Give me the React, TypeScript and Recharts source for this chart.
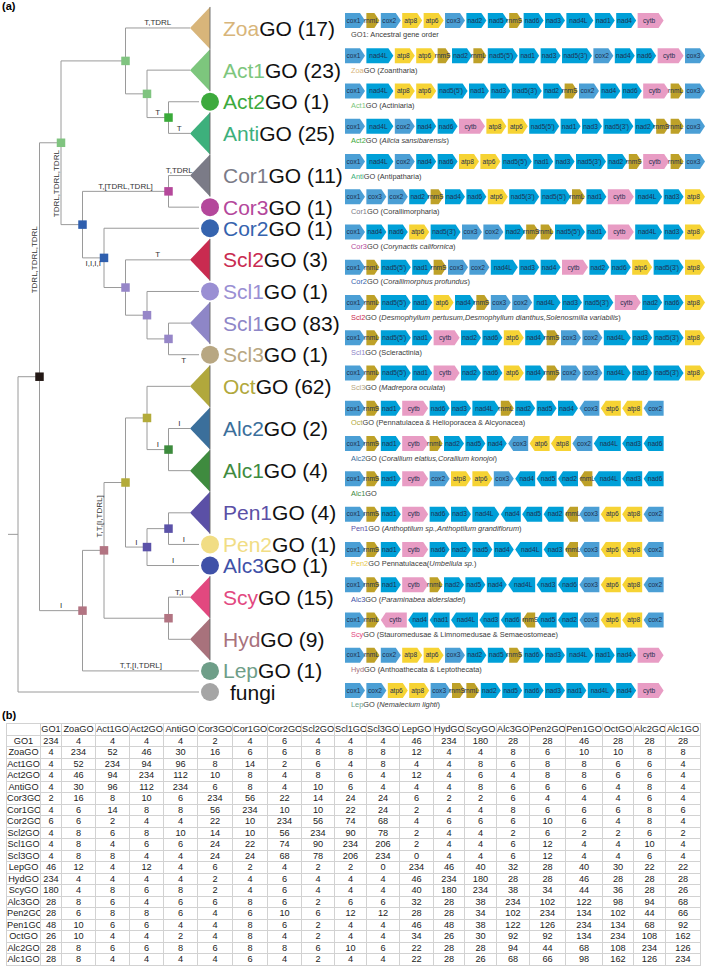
import React from 'react';
import { ScatterChart, Scatter, XAxis, YAxis, BarChart, Bar } from 'recharts';

const FONT = '"Liberation Sans", Arial, Helvetica, sans-serif';

// ---------------- Tree data ----------------
const tipNames = ['Zoa', 'Act1', 'Act2', 'Anti', 'Cor1', 'Cor3', 'Cor2', 'Scl2', 'Scl1', 'Scl1', 'Scl3', 'Oct', 'Alc2', 'Alc1', 'Pen1', 'Pen2', 'Alc3', 'Scy', 'Hyd', 'Lep', 'fungi'];
const tipCounts = [17, 23, 1, 25, 11, 1, 1, 3, 1, 83, 1, 62, 2, 4, 4, 1, 1, 15, 9, 1, null];
const tipKinds = ['clade', 'clade', 'single', 'clade', 'clade', 'single', 'single', 'clade', 'single', 'clade', 'single', 'clade', 'clade', 'clade', 'clade', 'single', 'single', 'clade', 'clade', 'single', 'single'];

type LP = 'a' | 'b' | 'v';
interface TNode { id: string; depth: number; tip?: number; label?: string; lp?: LP; children?: TNode[]; y?: number; }
const TIP_LEVEL = 8;
const N = (id: string, depth: number, children: TNode[], label?: string, lp?: LP): TNode => ({ id, depth, children, label, lp });
const T = (tip: number, label?: string, lp?: LP): TNode => ({ id: 't' + tip, depth: TIP_LEVEL, tip, label, lp });

const tree: TNode = N('root', 0, [
  N('A', 1, [
    N('Hexa', 2, [
      N('Z', 5, [T(0, 'T,TDRL', 'a'), N('ActN', 6, [T(1), N('AA', 7, [T(2), T(3, 'T', 'a')], 'T', 'a')])]),
      N('CS', 3, [
        N('CC', 7, [T(4, 'T,TDRL', 'a'), T(5)], 'T,[TDRL,TDRL]', 'a'),
        N('CS2', 4, [T(6), N('S1', 5, [T(7, 'T', 'a'), N('S2', 6, [T(8), N('S3', 7, [T(9), T(10, 'T', 'b')])])])], 'I,I,I,I', 'b'),
      ], 'TDRL,TDRL,TDRL', 'v'),
    ], 'TDRL,TDRL,TDRL', 'v'),
    N('OctMed', 3, [
      N('OM', 4, [
        N('Octo', 5, [
          N('OA', 6, [T(11), N('AA2', 7, [T(12, 'I', 'a'), T(13)], 'I', 'a')]),
          N('PA', 6, [N('PP', 7, [T(14), T(15, 'I', 'a')]), T(16, 'I', 'a')], 'I', 'a'),
        ], 'T,T,[I,TDRL]', 'v'),
        N('SH', 7, [T(17, 'T,I', 'a'), T(18)]),
      ]),
      T(19, 'T,T,[I,TDRL]', 'a'),
    ], 'I', 'a'),
  ]),
  T(20),
]);

// ---------------- Gene order data ----------------
const geneOrders: string[][] = [
  ['cox1', 'rnmL', 'cox2', 'atp8', 'atp6', 'cox3', 'nad2', 'nad5', 'rnmS', 'nad6', 'nad3', 'nad4L', 'nad1', 'nad4', 'cytb'],
  ['cox1', 'nad4L', 'atp8', 'atp6', 'rnmS', 'nad2', 'rnmL', "nad5(5')", 'nad1', 'nad3', "nad5(3')", 'cox2', 'nad4', 'nad6', 'cytb', 'cox3'],
  ['cox1', 'nad4L', 'atp8', 'atp6', "nad5(5')", 'nad1', 'nad3', "nad5(3')", 'nad2', 'rnmS', 'cox2', 'nad4', 'nad6', 'cytb', 'rnmL', 'cox3'],
  ['cox1', 'nad4L', 'cox2', 'nad4', 'nad6', 'cytb', 'atp8', 'atp6', "nad5(5')", 'nad1', 'nad3', "nad5(3')", 'nad2', 'rnmS', 'rnmL', 'cox3'],
  ['cox1', 'nad4L', 'cox2', 'nad4', 'nad6', 'atp8', 'atp6', "nad5(5')", 'nad1', 'nad3', "nad5(3')", 'nad2', 'rnmS', 'cytb', 'rnmL', 'cox3'],
  ['cox1', 'cox3', 'cox2', 'nad2', 'rnmS', 'nad4', 'nad6', 'atp6', "nad5(3')", "nad5(5')", 'rnmL', 'nad1', 'cytb', 'nad4L', 'nad3', 'atp8'],
  ['cox1', 'nad4', 'nad6', 'atp6', "nad5(3')", 'cox3', 'cox2', 'nad2', 'rnmS', 'rnmL', "nad5(5')", 'nad1', 'cytb', 'nad4L', 'nad3', 'atp8'],
  ['cox1', 'rnmL', "nad5(5')", 'nad1', 'rnmS', 'cox3', 'cox2', 'nad4L', 'nad3', 'nad4', 'cytb', 'nad2', 'nad6', 'atp6', "nad5(3')", 'atp8'],
  ['cox1', 'rnmL', "nad5(5')", 'nad1', 'atp6', 'nad4', 'rnmS', 'cox3', 'cox2', 'nad4L', 'nad3', "nad5(3')", 'cytb', 'nad2', 'nad6', 'atp8'],
  ['cox1', 'rnmL', "nad5(5')", 'nad1', 'cytb', 'nad2', 'nad6', 'atp6', 'nad4', 'rnmS', 'cox3', 'cox2', 'nad4L', 'nad3', "nad5(3')", 'atp8'],
  ['cox1', 'rnmL', "nad5(5')", 'nad1', 'cytb', 'nad2', 'nad6', 'atp6', 'nad4', 'rnmS', 'cox2', 'cox3', 'nad4L', 'nad3', "nad5(3')", 'atp8'],
  ['cox1', 'rnmS', 'nad1', 'cytb', 'nad6', 'nad3', 'nad4L', 'rnmL', 'nad2', 'nad5', 'nad4', '-cox3', '-atp6', '-atp8', '-cox2'],
  ['cox1', 'rnmS', 'nad1', 'cytb', 'rnmL', 'nad2', 'nad5', 'nad4', '-cox3', '-atp6', '-atp8', '-cox2', '-nad4L', '-nad3', '-nad6'],
  ['cox1', 'rnmS', 'nad1', 'cytb', 'cox2', 'atp8', 'atp6', 'cox3', '-nad4', '-nad5', '-nad2', '-rnmL', '-nad4L', '-nad3', '-nad6'],
  ['cox1', 'rnmS', 'nad1', 'cytb', 'nad6', 'nad3', 'nad4L', '-nad4', '-nad5', '-nad2', '-rnmL', '-cox3', '-atp6', '-atp8', '-cox2'],
  ['cox1', 'rnmS', 'nad1', 'cytb', 'nad6', 'nad2', 'nad5', 'nad4', '-nad4L', '-nad3', '-rnmL', '-cox3', '-atp6', '-atp8', '-cox2'],
  ['cox1', 'rnmS', 'nad1', 'cytb', 'rnmL', 'nad2', 'nad5', 'nad4', '-nad4L', '-nad3', '-nad6', '-cox3', '-atp6', '-atp8', '-cox2'],
  ['cox1', 'rnmL', '-cytb', '-nad4', '-nad1', '-nad4L', '-nad3', '-nad6', '-rnmS', '-nad5', '-nad2', '-cox3', '-atp6', '-atp8', '-cox2'],
  ['cox1', 'rnmL', 'cox2', 'atp8', 'atp6', 'cox3', 'nad2', 'nad5', 'rnmS', 'nad6', 'nad3', 'nad4L', 'nad1', 'nad4', 'cytb'],
  ['cox1', 'cox2', 'atp6', 'atp8', 'cox3', 'rnmS', 'rnmL', 'nad2', 'nad5', 'nad6', 'nad3', 'nad1', 'nad4L', 'nad4', 'cytb'],
];
const captionPrefix = ['GO1', 'Zoa', 'Act1', 'Act2', 'Anti', 'Cor1', 'Cor3', 'Cor2', 'Scl2', 'Scl1', 'Scl3', 'Oct', 'Alc2', 'Alc1', 'Pen1', 'Pen2', 'Alc3', 'Scy', 'Hyd', 'Lep'];
const captionText = [
  ': Ancestral gene order', 'GO  (Zoantharia)', 'GO (Actiniaria)', 'GO  (*Alicia sansibarensis*)', 'GO (Antipatharia)',
  'GO (Corallimorpharia)', 'GO (*Corynactis californica*)', 'GO (*Corallimorphus profundus*)',
  'GO (*Desmophyllum pertusum,Desmophyllum dianthus,Solenosmilia variabilis*)', 'GO (Scleractinia)', 'GO (*Madrepora oculata*)',
  'GO (Pennatulacea & Helioporacea & Alcyonacea)', 'GO (*Corallium elatius,Corallium konojoi*)', 'GO',
  'GO (*Anthoptilum sp.,Anthoptilum grandiflorum*)', 'GO Pennatulacea(*Umbellula sp.*)', 'GO (*Paraminabea aldersladei*)',
  'GO (Stauromedusae & Limnomedusae & Semaeostomeae)', 'GO (Anthoathecata & Leptothecata)', 'GO (*Nemalecium lighti*)',
];

// ---------------- Table data ----------------
const tableNames = ['GO1', 'ZoaGO', 'Act1GO', 'Act2GO', 'AntiGO', 'Cor3GO', 'Cor1GO', 'Cor2GO', 'Scl2GO', 'Scl1GO', 'Scl3GO', 'LepGO', 'HydGO', 'ScyGO', 'Alc3GO', 'Pen2GO', 'Pen1GO', 'OctGO', 'Alc2GO', 'Alc1GO'];
const tableValues: number[][] = [
  [234, 4, 4, 4, 4, 2, 4, 6, 4, 4, 4, 46, 234, 180, 28, 28, 46, 28, 28, 28],
  [4, 234, 52, 46, 30, 16, 6, 6, 8, 8, 8, 12, 4, 4, 8, 6, 10, 10, 8, 8],
  [4, 52, 234, 94, 96, 8, 14, 2, 6, 4, 8, 4, 4, 8, 6, 8, 8, 6, 6, 4],
  [4, 46, 94, 234, 112, 10, 8, 4, 8, 6, 4, 12, 4, 6, 4, 8, 8, 6, 6, 4],
  [4, 30, 96, 112, 234, 6, 8, 4, 10, 6, 4, 4, 4, 8, 6, 6, 6, 4, 8, 4],
  [2, 16, 8, 10, 6, 234, 56, 22, 14, 24, 24, 6, 2, 2, 6, 4, 4, 4, 6, 4],
  [4, 6, 14, 8, 8, 56, 234, 10, 10, 22, 24, 2, 4, 4, 8, 6, 6, 6, 8, 6],
  [6, 6, 2, 4, 4, 22, 10, 234, 56, 74, 68, 4, 6, 6, 6, 10, 6, 4, 8, 4],
  [4, 8, 6, 8, 10, 14, 10, 56, 234, 90, 78, 2, 4, 4, 2, 6, 2, 2, 6, 2],
  [4, 8, 4, 6, 6, 24, 22, 74, 90, 234, 206, 2, 4, 4, 6, 12, 4, 4, 10, 4],
  [4, 8, 8, 4, 4, 24, 24, 68, 78, 206, 234, 0, 4, 4, 6, 12, 4, 4, 6, 4],
  [46, 12, 4, 12, 4, 6, 2, 4, 2, 2, 0, 234, 46, 40, 32, 28, 40, 30, 22, 22],
  [234, 4, 4, 4, 4, 2, 4, 6, 4, 4, 4, 46, 234, 180, 28, 28, 46, 28, 28, 28],
  [180, 4, 8, 6, 8, 2, 4, 6, 4, 4, 4, 40, 180, 234, 38, 34, 44, 36, 28, 26],
  [28, 8, 6, 4, 6, 6, 8, 6, 2, 6, 6, 32, 28, 38, 234, 102, 122, 98, 94, 68],
  [28, 6, 8, 8, 6, 4, 6, 10, 6, 12, 12, 28, 28, 34, 102, 234, 134, 102, 44, 66],
  [48, 10, 6, 6, 4, 4, 8, 6, 2, 4, 4, 46, 48, 38, 122, 126, 234, 134, 68, 92],
  [26, 10, 4, 4, 2, 4, 8, 4, 2, 4, 4, 34, 26, 30, 92, 92, 134, 234, 108, 162],
  [28, 8, 6, 6, 8, 6, 8, 8, 6, 10, 6, 22, 28, 28, 94, 44, 68, 108, 234, 126],
  [28, 8, 4, 4, 4, 4, 6, 4, 2, 4, 4, 22, 28, 26, 68, 66, 98, 162, 126, 234],
];

// ---------------- Styles ----------------
const TIP_COLORS = ['#d8b57a', '#7dc67d', '#3daa3d', '#3db07c', '#7b7b87', '#b4479b', '#3563ae', '#c92b50', '#9a8fd3', '#8e86c7', '#b8a782', '#b1a83c', '#3b6f9b', '#3f8b3f', '#5b50a6', '#f1dd84', '#3f51a8', '#e2487f', '#a8727c', '#6e9e88', '#a5a5a5'];
const CAPTION_COLORS = ['#444', TIP_COLORS[0], TIP_COLORS[1], TIP_COLORS[2], TIP_COLORS[3], TIP_COLORS[4], TIP_COLORS[5], TIP_COLORS[6], TIP_COLORS[7], TIP_COLORS[9], TIP_COLORS[10], TIP_COLORS[11], TIP_COLORS[12], TIP_COLORS[13], TIP_COLORS[14], '#e8c94a', TIP_COLORS[16], TIP_COLORS[17], TIP_COLORS[18], TIP_COLORS[19]];
const NODE_COLORS: Record<string, string> = {
  A: '#231815', Hexa: '#80c480', Z: '#80c480', ActN: '#80c480', AA: '#3aaa3a', CS: '#2f5fae', CC: '#b5489b', CS2: '#2f5fae',
  S1: '#9686c8', S2: '#9686c8', S3: '#9686c8', OctMed: '#b27482', OM: '#b27482', Octo: '#b3ab3a', OA: '#b3ab3a', AA2: '#3d8b3d',
  PA: '#5b52a8', PP: '#5b52a8', SH: '#b27482',
};
const GENE_COLORS: Record<string, string> = { nad: '#00a0d8', cox: '#4b9fd5', atp: '#f6d334', rnm: '#bea128', cyt: '#e89cc4' };
const GENE_W: Record<string, number> = { rnmS: 13, rnmL: 13, nad4L: 27, cytb: 26, "nad5(5')": 30, "nad5(3')": 30 };
const STD_W = 20;
const GAP = 1.4;
const BRANCH = '#9a9a9a';

// tree pixel mapping: px = X0 + LEVEL_PX * level ; py = Y0 + ROW_PX * unit
const X0 = 18, LEVEL_PX = 21.5, Y0 = 6.9, ROW_PX = 21.08;
const TREE_W = 360, TREE_H = 720;
const CIRCLE_LEVEL = (210 - X0) / LEVEL_PX;
const ROOT_STEM = 10 / LEVEL_PX;

function layoutTree(root: TNode) {
  let cum = 0;
  const ty = tipKinds.map((k) => { const s = k === 'clade' ? 2 : 1; const c = cum + s / 2; cum += s; return c; });
  const segs: { x: number; y: number }[][] = [];
  const nodes: any[] = [];
  const labels: any[] = [];
  const isClade = (n: TNode) => tipKinds[n.tip as number] === 'clade';
  const visEnd = (n: TNode) => (n.tip !== undefined ? (isClade(n) ? TIP_LEVEL : TIP_LEVEL + 0.42) : n.depth);
  const setY = (n: TNode): number => {
    if (n.tip !== undefined) { n.y = ty[n.tip]; return n.y; }
    const ys = (n.children as TNode[]).map(setY);
    n.y = (ys[0] + ys[ys.length - 1]) / 2;
    return n.y;
  };
  setY(root);
  const walk = (n: TNode) => {
    if (!n.children) return;
    const c0 = n.children[0], cl = n.children[n.children.length - 1];
    segs.push([{ x: n.depth, y: c0.y as number }, { x: n.depth, y: cl.y as number }]);
    if (n.id !== 'root') nodes.push({ x: n.depth, y: n.y, id: n.id });
    n.children.forEach((c) => {
      segs.push([{ x: n.depth, y: c.y as number }, { x: visEnd(c), y: c.y as number }]);
      if (c.label) {
        if (c.lp === 'v') labels.push({ x: n.depth, y: ((n.y as number) + (c.y as number)) / 2, text: c.label, lp: 'v' });
        else labels.push({ x: (n.depth + visEnd(c)) / 2, y: c.y, text: c.label, lp: c.lp });
      }
      walk(c);
    });
  };
  walk(root);
  segs.push([{ x: -ROOT_STEM, y: root.y as number }, { x: 0, y: root.y as number }]);
  const tips = tipNames.map((name, i) => ({ x: tipKinds[i] === 'clade' ? TIP_LEVEL : CIRCLE_LEVEL, y: ty[i], i }));
  return { segs, nodes, labels, tips };
}

const TL = layoutTree(tree);

const NodeSquare = (p: any) => {
  const s = 8.5;
  return <rect x={p.cx - s / 2} y={p.cy - s / 2} width={s} height={s} fill={NODE_COLORS[p.payload.id]} />;
};

const TipShape = (p: any) => {
  const i = p.payload.i;
  const color = TIP_COLORS[i];
  const { cx, cy } = p;
  const clade = tipKinds[i] === 'clade';
  const labelX = i === 20 ? cx + 20 : clade ? cx + 33 : cx + 13;
  return (
    <g>
      {clade ? (
        <g>
          <polygon points={`${cx},${cy} ${cx + 20},${cy - 21} ${cx + 20},${cy + 21}`} fill={color} />
          <line x1={cx + 20} y1={cy - 21} x2={cx + 20} y2={cy + 21} stroke="#666" strokeWidth={0.9} />
        </g>
      ) : (
        <circle cx={cx} cy={cy} r={9} fill={color} />
      )}
      <text x={labelX} y={cy} dy="0.36em" fontSize={21} fontFamily={FONT}>
        {i === 20 ? (
          <tspan fill="#111">{tipNames[i]}</tspan>
        ) : (
          <>
            <tspan fill={color}>{tipNames[i]}</tspan>
            <tspan fill="#111">{`GO (${tipCounts[i]})`}</tspan>
          </>
        )}
      </text>
    </g>
  );
};

const BranchLabel = (p: any) => {
  const { cx, cy, payload } = p;
  const common = { fontSize: 8, fontFamily: FONT, fill: '#333', textAnchor: 'middle' as const };
  if (payload.lp === 'v') {
    return <text x={cx - 2} y={cy} transform={`rotate(-90, ${cx - 2}, ${cy})`} {...common}>{payload.text}</text>;
  }
  if (payload.lp === 'b') return <text x={cx} y={cy + 8.5} {...common}>{payload.text}</text>;
  return <text x={cx} y={cy - 2.5} {...common}>{payload.text}</text>;
};

const Empty = () => <g />;

function geneColor(name: string) {
  return GENE_COLORS[name.slice(0, 3)] || '#00a0d8';
}

const geneRows = geneOrders.map((genes, r) => {
  const o: any = { row: r };
  genes.forEach((g, k) => {
    const nm = g.startsWith('-') ? g.slice(1) : g;
    o['w' + k] = (GENE_W[nm] ?? STD_W) + GAP;
    o['n' + k] = g;
  });
  return o;
});
const MAX_GENES = Math.max(...geneOrders.map((g) => g.length));

function renderCaption(r: number, x: number, y: number) {
  const parts = captionText[r].split('*');
  return (
    <text x={x} y={y} fontSize={7.4} fontFamily={FONT} fill="#3a3a3a">
      <tspan fill={CAPTION_COLORS[r]}>{captionPrefix[r]}</tspan>
      {parts.map((s, j) => (
        <tspan key={j} fontStyle={j % 2 === 1 ? 'italic' : 'normal'}>{s}</tspan>
      ))}
    </text>
  );
}

const GeneBox = (props: any) => {
  const { x, y, width, height, payload, k } = props;
  const raw: string | undefined = payload ? payload['n' + k] : undefined;
  if (!raw) return <g />;
  const rev = raw.startsWith('-');
  const name = rev ? raw.slice(1) : raw;
  const w = width - GAP;
  const h = height;
  const tl = 5;
  const pts = rev
    ? [[x, y + h / 2], [x + tl, y], [x + w, y], [x + w, y + h], [x + tl, y + h]]
    : [[x, y], [x + w - tl, y], [x + w, y + h / 2], [x + w - tl, y + h], [x, y + h]];
  const tx = rev ? x + tl * 0.6 + (w - tl * 0.6) / 2 : x + (w - tl * 0.6) / 2;
  return (
    <g>
      <polygon points={pts.map((p) => p.join(',')).join(' ')} fill={geneColor(name)} />
      <text x={tx} y={y + h / 2} dy="0.35em" textAnchor="middle" fontSize={6.6} fontFamily={FONT} fill="#1f2f4f">
        {name}
      </text>
      {k === 0 ? renderCaption(payload.row, x + 6, y + h / 2 + 17) : null}
    </g>
  );
};

const COL_W = [34, 21, 34, 34, 34, 34, 35, 35, 34, 33, 32, 33, 34, 31, 32, 33, 36, 37, 31, 32, 35];

export default function App() {
  const cell: React.CSSProperties = {
    border: '1px solid #d2d2d2', padding: 0, height: 10.5, lineHeight: '10.5px', textAlign: 'center',
    overflow: 'hidden', whiteSpace: 'nowrap',
  };
  const inner: React.CSSProperties = { width: '100%', overflow: 'hidden', whiteSpace: 'nowrap' };
  return (
    <div style={{ position: 'absolute', left: 0, top: 0, width: 709, height: 966, background: '#fff', fontFamily: FONT, overflow: 'hidden' }}>
      <div style={{ position: 'absolute', left: 2, top: 0, fontSize: 11, fontWeight: 'bold', lineHeight: '13px' }}>(a)</div>
      <div style={{ position: 'absolute', left: 2, top: 709, fontSize: 11, fontWeight: 'bold', lineHeight: '13px' }}>(b)</div>

      <div style={{ position: 'absolute', left: 0, top: 0 }}>
        <ScatterChart width={TREE_W} height={TREE_H} margin={{ top: 0, right: 0, bottom: 0, left: 0 }}>
          <XAxis type="number" dataKey="x" hide allowDataOverflow domain={[-X0 / LEVEL_PX, (TREE_W - X0) / LEVEL_PX]} />
          <YAxis type="number" dataKey="y" hide allowDataOverflow reversed domain={[-Y0 / ROW_PX, (TREE_H - Y0) / ROW_PX]} />
          {TL.segs.map((s, i) => (
            <Scatter key={'s' + i} data={s} line={{ stroke: BRANCH, strokeWidth: 1 }} lineType="joint" shape={Empty} isAnimationActive={false} />
          ))}
          <Scatter data={TL.nodes} shape={NodeSquare} isAnimationActive={false} />
          <Scatter data={TL.tips} shape={TipShape} isAnimationActive={false} />
          <Scatter data={TL.labels} shape={BranchLabel} isAnimationActive={false} />
        </ScatterChart>
      </div>

      <div style={{ position: 'absolute', left: 345, top: 3.4 }}>
        <BarChart layout="vertical" width={364} height={715.2} data={geneRows} margin={{ top: 0, right: 0, bottom: 10, left: 0 }} barSize={15}>
          <XAxis type="number" domain={[0, 364]} hide allowDataOverflow />
          <YAxis type="category" dataKey="row" hide />
          {Array.from({ length: MAX_GENES }).map((_, k) => (
            <Bar key={k} dataKey={'w' + k} stackId="g" isAnimationActive={false} shape={(p: any) => <GeneBox {...p} k={k} />} />
          ))}
        </BarChart>
      </div>

      <table style={{ position: 'absolute', left: 6, top: 723, width: 694, borderCollapse: 'collapse', tableLayout: 'fixed', fontSize: 9.2, color: '#222', fontFamily: FONT }}>
        <colgroup>
          {COL_W.map((w, i) => <col key={i} style={{ width: w }} />)}
        </colgroup>
        <tbody>
          <tr>
            <td style={cell}></td>
            {tableNames.map((n) => <td key={n} style={cell}><div style={inner}>{n}</div></td>)}
          </tr>
          {tableNames.map((r, i) => (
            <tr key={r}>
              <td style={cell}><div style={inner}>{r}</div></td>
              {tableValues[i].map((v, j) => <td key={j} style={cell}>{v}</td>)}
            </tr>
          ))}
        </tbody>
      </table>
    </div>
  );
}
